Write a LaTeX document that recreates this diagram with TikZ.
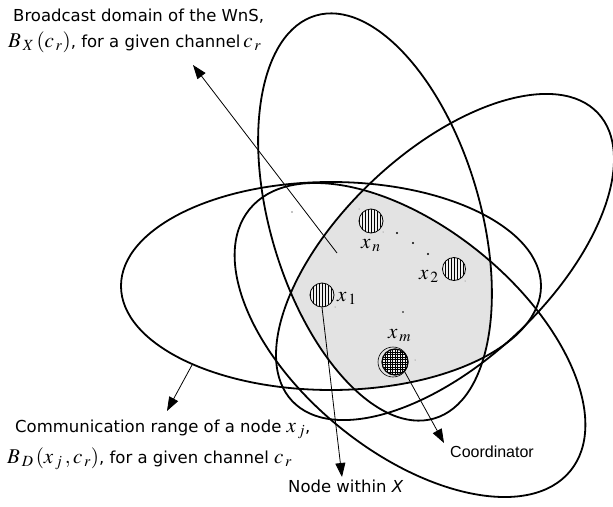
\documentclass[tikz,border=0pt]{standalone}
\usepackage{mathptmx}
\usepackage[no-math]{fontspec}
\setmainfont{DejaVu Sans}
\newfontfamily\arialfont{Liberation Sans}
\usetikzlibrary{arrows.meta}
% formulas set a little larger than the captions
\newcommand\bigmath[1]{{\fontsize{21}{22}\selectfont$#1$}}
\begin{document}
\begin{tikzpicture}[x=1pt,y=-1pt,
  rim/.style={line width=1.8pt},
  arr/.style={line width=0.8pt,-{Triangle[length=14pt,width=10pt]}},
  txt/.style={font=\fontsize{16.5}{20}\selectfont,inner sep=0pt,anchor=base west},
  lab/.style={font=\fontsize{21}{22}\selectfont,inner sep=0pt,anchor=base west},
  vhatch/.style={circle,draw,line width=0.8pt,fill=black!6,minimum size=#1,inner sep=0pt,
    path picture={\foreach \k in {-15,-12,...,15}{\draw[line width=0.7pt]
      ([xshift=\k pt,yshift=-16pt]path picture bounding box.center) --
      ([xshift=\k pt,yshift=16pt]path picture bounding box.center);}}},
  ghatch/.style={circle,draw,line width=1.2pt,fill=black!6,minimum size=#1,inner sep=0pt,
    path picture={\foreach \k in {-15,-12.5,...,15}{\draw[line width=0.7pt]
      ([xshift=\k pt,yshift=-16pt]path picture bounding box.center) --
      ([xshift=\k pt,yshift=16pt]path picture bounding box.center);
      \draw[line width=0.7pt]
      ([yshift=\k pt,xshift=-16pt]path picture bounding box.center) --
      ([yshift=\k pt,xshift=16pt]path picture bounding box.center);}}},
  speck/.style={fill=black}]
\useasboundingbox (0,0) rectangle (613,506);

% common area of the four ranges
\begin{scope}
  \clip[rotate around={-73.6:(375,217)}] (375,217) ellipse [x radius=210pt,y radius=105pt];
  \clip[rotate around={-39.2:(410,340)}] (410,340) ellipse [x radius=207pt,y radius=112pt];
  \clip[rotate around={43.3:(445,257)}] (445,257) ellipse [x radius=210pt,y radius=105pt];
  \fill[black!11] (331,286) ellipse [x radius=210pt,y radius=104pt];
\end{scope}

% communication ranges
\draw[rim] (331,286) ellipse [x radius=210pt,y radius=104pt];
\draw[rim,rotate around={-73.6:(375,217)}] (375,217) ellipse [x radius=210pt,y radius=105pt];
\draw[rim,rotate around={-39.2:(410,340)}] (410,340) ellipse [x radius=207pt,y radius=112pt];
\draw[rim,rotate around={43.3:(445,257)}] (445,257) ellipse [x radius=210pt,y radius=105pt];

% scattered specks
\fill[speck] (397,233) circle (1.1pt);
\fill[speck] (413,243) circle (1.1pt);
\fill[speck] (428,254) circle (1.1pt);
\fill[speck] (403,312) circle (0.9pt);
\fill[speck] (292,212) circle (0.7pt);
\fill[speck,black!60] (383,232) circle (0.5pt);
\fill[speck,black!60] (465,281) circle (0.5pt);
\fill[speck,black!60] (335,307) circle (0.5pt);
\fill[speck,black!60] (379,369) circle (0.5pt);
\fill[speck,black!60] (415,360) circle (0.5pt);
\fill[speck,black!60] (359,209) circle (0.5pt);

% arrow anchors
\coordinate (bd) at (337,253);
\coordinate (rim1) at (192,365);
\coordinate (tipB) at (193,65);
\coordinate (tipC) at (167,411);
\coordinate (tipN) at (342,477);
\coordinate (tipK) at (444,443);

% sensor nodes
\node[vhatch=24pt] (xn) at (371,221) {};
\node[vhatch=23pt] (x2) at (454,269) {};
\node[vhatch=24pt] (x1) at (322,295) {};
\node[circle,draw,line width=0.6pt,minimum size=30pt,inner sep=0pt] (xmo) at (393,362) {};
\node[ghatch=26pt] (xm) at (395,362) {};

\node[lab] (lxn) at (361,248) {$x_{\,n}$};
\node[lab] (lx2) at (419,279) {$x_{\,2}$};
\node[lab] (lx1) at (337,301) {$x_{\,1}$};
\node[lab] (lxm) at (388,338) {$x_{\,m}$};

% connectors
\draw[arr] (bd) -- (tipB);
\draw[arr] (rim1) -- (tipC);
\draw[arr] (x1.south) -- (tipN);
\draw[arr] (xm.south east) -- (tipK);

% captions
\node[txt] (tb1) at (13,21) {Broadcast domain of the WnS,};
\node[txt] (tb2) at (8,47) {\bigmath{B_{\,X}\,(c_{\,r})}, for a given channel\,\bigmath{c_{\,r}}};
\node[txt] (tc1) at (15,432) {Communication range of a node \bigmath{x_{\,j}},};
\node[txt] (tc2) at (7,463) {\bigmath{B_{\,D}\,(x_{\,j}\,,c_{\,r})}, for a given channel \bigmath{c_{\,r}}};
\node[txt] (tn) at (288,492) {Node within \textit{X}};
\node[txt,font=\arialfont\fontsize{16}{18}\selectfont] (tk) at (450,457) {Coordinator};
\end{tikzpicture}
\end{document}
